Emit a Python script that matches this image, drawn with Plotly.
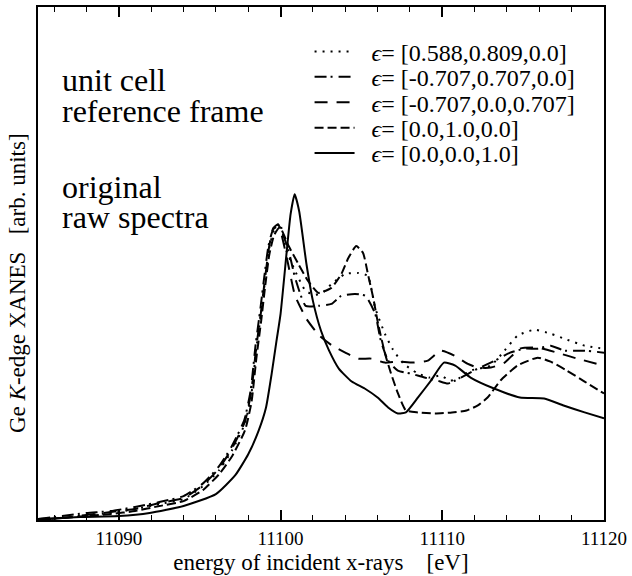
import plotly.graph_objects as go

# ---------------- data ----------------
# eps = [0.588, 0.809, 0.0]  (dotted)
e_dot = [11085.0, 11086.5, 11088.0, 11089.5, 11091.0, 11092.5, 11094.0, 11095.2, 11096.2, 11097.0,
         11097.8, 11098.2, 11098.5, 11098.8, 11099.05, 11099.3, 11099.6, 11099.95,
         11100.3, 11100.9, 11101.55, 11102.15, 11102.65, 11103.15, 11104.0, 11104.8, 11105.4,
         11105.85, 11106.45, 11106.95, 11107.6, 11108.4, 11109.2, 11109.9, 11110.5, 11111.0,
         11111.75, 11113.0, 11113.85, 11114.65, 11115.7, 11116.7, 11117.55, 11118.8, 11120.0]
y_dot = [0.00, 0.02, 0.05, 0.07, 0.11, 0.16, 0.21, 0.34, 0.50, 0.70,
         0.97, 1.27, 1.72, 2.08, 2.42, 2.73, 2.91, 2.98,
         2.73, 2.50, 2.30, 2.26, 2.29, 2.37, 2.47, 2.48, 2.45,
         2.13, 1.87, 1.71, 1.57, 1.48, 1.43, 1.45, 1.40, 1.42,
         1.50, 1.55, 1.70, 1.85, 1.91, 1.87, 1.82, 1.75, 1.72]

# eps = [-0.707, 0.707, 0.0]  (dash-dot)
e_dd = [11085.0, 11086.5, 11088.0, 11089.5, 11091.0, 11092.5, 11094.0, 11095.15, 11096.15, 11096.95,
        11097.75, 11098.15, 11098.45, 11098.75, 11099.0, 11099.25, 11099.55, 11099.9,
        11100.5, 11100.9, 11101.55, 11102.35, 11103.15, 11103.75, 11104.6, 11105.25, 11105.85,
        11106.2, 11106.65, 11107.25, 11108.05, 11108.9, 11109.7, 11110.35, 11111.15, 11112.2,
        11113.25, 11114.2, 11115.1, 11115.9, 11116.7, 11117.55, 11118.8, 11120.0]
y_dd = [0.01, 0.04, 0.07, 0.09, 0.13, 0.18, 0.24, 0.36, 0.53, 0.73,
        1.00, 1.30, 1.75, 2.12, 2.45, 2.75, 2.92, 2.95,
        2.70, 2.43, 2.15, 2.15, 2.17, 2.25, 2.27, 2.25, 2.07,
        1.80, 1.60, 1.50, 1.47, 1.43, 1.40, 1.37, 1.43, 1.52,
        1.60, 1.68, 1.72, 1.72, 1.75, 1.70, 1.70, 1.68]

# eps = [-0.707, 0.0, 0.707]  (long dash)
e_ld = [11085.0, 11086.5, 11088.0, 11089.5, 11091.0, 11092.5, 11094.0, 11095.2, 11096.2, 11097.0,
        11097.8, 11098.2, 11098.5, 11098.8, 11099.05, 11099.3, 11099.55, 11099.85,
        11100.4, 11100.9, 11101.6, 11102.4, 11103.2, 11104.0, 11104.8, 11105.6, 11106.45,
        11107.25, 11108.2, 11109.1, 11109.9, 11110.75, 11111.55, 11112.2, 11113.0, 11113.85,
        11114.8, 11115.9, 11117.1, 11118.35, 11120.0]
y_ld = [0.00, 0.02, 0.05, 0.08, 0.11, 0.17, 0.22, 0.35, 0.52, 0.72,
        0.99, 1.30, 1.74, 2.10, 2.44, 2.75, 2.93, 2.97,
        2.62, 2.25, 2.02, 1.85, 1.75, 1.68, 1.62, 1.62, 1.58,
        1.59, 1.58, 1.60, 1.70, 1.65, 1.57, 1.53, 1.53, 1.58,
        1.72, 1.73, 1.68, 1.62, 1.55]

# eps = [0.0, 1.0, 0.0]  (dashed)
e_da = [11085.0, 11086.5, 11088.0, 11089.5, 11091.0, 11092.5, 11094.0, 11095.2, 11096.2, 11097.0,
        11097.8, 11098.2, 11098.5, 11098.8, 11099.05, 11099.3, 11099.6, 11099.95,
        11100.5, 11101.1, 11101.7, 11102.34, 11103.14, 11103.76, 11104.19, 11104.68, 11105.1,
        11105.4, 11105.73, 11106.03, 11106.46, 11106.83, 11107.26, 11107.75, 11108.5, 11109.55,
        11110.6, 11111.5, 11112.2, 11112.8, 11113.6, 11114.65, 11115.9, 11116.7, 11117.7,
        11118.8, 11120.0]
y_da = [0.00, 0.02, 0.04, 0.06, 0.09, 0.14, 0.19, 0.30, 0.46, 0.64,
        0.90, 1.18, 1.62, 2.00, 2.35, 2.66, 2.86, 2.94,
        2.75, 2.57, 2.40, 2.28, 2.33, 2.47, 2.63, 2.75, 2.68,
        2.47, 2.23, 1.97, 1.67, 1.47, 1.27, 1.10, 1.08, 1.07,
        1.08, 1.10, 1.15, 1.23, 1.40, 1.55, 1.63, 1.59, 1.50,
        1.39, 1.27]

# eps = [0.0, 0.0, 1.0]  (solid)
e_so = [11085.0, 11087.6, 11090.0, 11091.9, 11094.0, 11096.0, 11097.2, 11098.0, 11098.65, 11099.1,
        11099.45, 11099.75, 11100.0, 11100.4, 11100.62, 11100.87, 11101.15, 11101.6, 11102.0,
        11102.5, 11103.0, 11103.6, 11104.4, 11105.2, 11106.0, 11106.65, 11107.25, 11107.75,
        11108.5, 11109.3, 11110.1, 11110.8, 11111.75, 11113.2, 11114.8, 11116.3, 11117.5,
        11118.8, 11120.0]
y_so = [0.01, 0.03, 0.04, 0.07, 0.14, 0.26, 0.45, 0.66, 0.90, 1.13,
        1.47, 1.80, 2.07, 2.73, 3.07, 3.27, 3.10, 2.57, 2.20,
        1.90, 1.70, 1.52, 1.39, 1.32, 1.23, 1.13, 1.07, 1.08,
        1.23, 1.40, 1.58, 1.55, 1.43, 1.32, 1.23, 1.22, 1.15,
        1.08, 1.02]

labels = ["[0.588,0.809,0.0]", "[-0.707,0.707,0.0]", "[-0.707,0.0,0.707]",
          "[0.0,1.0,0.0]", "[0.0,0.0,1.0]"]

x_ticks = [11090, 11100, 11110, 11120]

# ---------------- styling ----------------
FONT = "Liberation Serif"
series = [
    (e_dot, y_dot, "2px,6px"),
    (e_dd, y_dd, "12px,4px,2px,6px"),
    (e_ld, y_ld, "13px,9px"),
    (e_da, y_da, "9px,4px"),
    (e_so, y_so, "solid"),
]

fig = go.Figure()
legend_names = ["legend", "legend2", "legend3", "legend4", "legend5"]
for (ex, ey, dash), lab, lg in zip(series, labels, legend_names):
    fig.add_trace(go.Scatter(
        x=ex, y=ey, mode="lines",
        line=dict(color="black", width=2, dash=dash, shape="spline", smoothing=0.5),
        name="\u00a0\u00a0<i>\u03f5</i>= " + lab, legend=lg, showlegend=True,
    ))

# plot area: x 38..607, y 5..520 px
L, R, T, B = 38, 25, 5, 56
W, H = 632, 576
pw, ph = W - L - R, H - T - B


def px_x(px):
    return (px - L) / pw


def px_y(py):
    return (H - B - py) / ph


row_centres = [50, 75.5, 101, 126.5, 152]
legend_layouts = {}
for lg, py in zip(legend_names, row_centres):
    legend_layouts[lg] = dict(
        x=px_x(311), y=px_y(py), xanchor="left", yanchor="middle",
        font=dict(family=FONT, size=24, color="black"),
        bgcolor="rgba(0,0,0,0)", borderwidth=0, itemwidth=40,
    )

fig.update_layout(
    width=W, height=H,
    margin=dict(l=L, r=R, t=T, b=B),
    paper_bgcolor="white", plot_bgcolor="white",
    font=dict(family=FONT, color="black"),
    **legend_layouts,
)

fig.update_xaxes(
    range=[11085, 11120], tickvals=x_ticks, ticktext=[str(v) for v in x_ticks],
    ticks="inside", ticklen=10, tickwidth=1.5, tickcolor="black",
    minor=dict(dtick=2, tick0=11084, ticks="inside", ticklen=5, tickwidth=1.2, tickcolor="black"),
    showline=True, linewidth=2, linecolor="black", mirror="ticks",
    showgrid=False, zeroline=False,
    tickfont=dict(family=FONT, size=19, color="black"),
    title=dict(text="energy of incident x-rays\u00a0\u00a0\u00a0\u00a0[eV]",
               font=dict(family=FONT, size=23, color="black"), standoff=6),
)
fig.update_yaxes(
    range=[0, 5.15], showticklabels=False, ticks="",
    showline=True, linewidth=2, linecolor="black", mirror=True,
    showgrid=False, zeroline=False,
)

ann_font = dict(family=FONT, size=32, color="black")
for txt, py in [("unit cell", 78), ("reference frame", 109), ("original", 186), ("raw spectra", 216)]:
    fig.add_annotation(text=txt, xref="paper", yref="paper", x=px_x(60), y=px_y(py),
                       xanchor="left", yanchor="middle", showarrow=False, font=ann_font)

fig.add_annotation(
    text="Ge <i>K</i>-edge XANES\u00a0\u00a0\u00a0[arb. units]",
    xref="paper", yref="paper", x=px_x(18), y=px_y(282),
    xanchor="center", yanchor="middle", textangle=-90, showarrow=False,
    font=dict(family=FONT, size=23, color="black"),
)

fig.write_html("out.html", config={"displayModeBar": False},
               post_script="document.body.style.margin='0';")
